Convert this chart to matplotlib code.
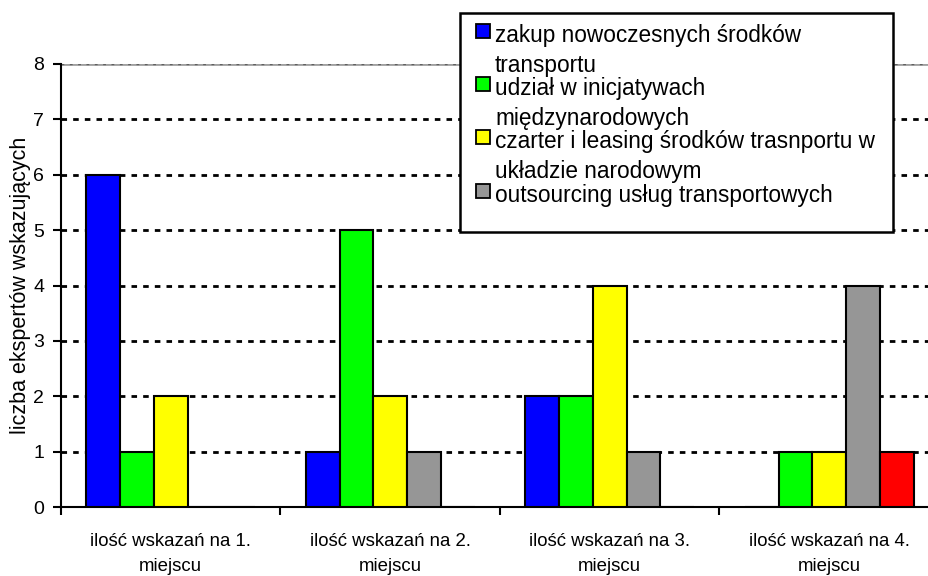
import matplotlib
matplotlib.use("Agg")
import matplotlib.pyplot as plt
import numpy as np
from matplotlib.patches import Rectangle

plt.rcParams['font.family'] = ['Liberation Sans', 'DejaVu Sans']

categories = ["ilość wskazań na 1.\nmiejscu", "ilość wskazań na 2.\nmiejscu",
              "ilość wskazań na 3.\nmiejscu", "ilość wskazań na 4.\nmiejscu"]
series_names = ["zakup nowoczesnych środków\ntransportu",
                "udział w inicjatywach\nmiędzynarodowych",
                "czarter i leasing środków trasnportu w\nukładzie narodowym",
                "outsourcing usług transportowych"]
zakup = [6, 1, 2, 0]
udzial = [1, 5, 2, 1]
czarter = [2, 2, 4, 1]
outsourcing = [0, 1, 1, 4]
inne = [0, 0, 0, 1]
colors = ["#0000ff", "#00ff00", "#ffff00", "#969696", "#ff0000"]
yticks = [0, 1, 2, 3, 4, 5, 6, 7, 8]

data = [zakup, udzial, czarter, outsourcing, inne]

W, H = 929, 576
fig = plt.figure(figsize=(W / 100, H / 100), dpi=100)
ax = fig.add_axes([61 / W, 69 / H, 878 / W, 443 / H])

n = len(data)
bw = 0.154
x = np.arange(len(categories))
for i, (vals, c) in enumerate(zip(data, colors)):
    offs = (i - (n - 1) / 2) * bw
    ax.bar(x + offs, vals, width=bw, color=c, edgecolor='black', linewidth=1.5, zorder=3)

ax.set_xlim(-0.5, len(categories) - 0.5)
ax.set_ylim(0, 8)
ax.set_yticks(yticks)
ax.set_yticklabels([str(t) for t in yticks], fontsize=14)
ax.set_xticks(np.arange(len(categories) + 1) - 0.5, minor=False)
ax.set_xticklabels([])
ax.set_xticks(x, minor=True)
ax.set_xticklabels(categories, minor=True, fontsize=13.4, linespacing=1.6)
ax.tick_params(axis='x', which='minor', length=0, pad=19)
ax.tick_params(axis='x', which='major', length=6, width=1.5, direction='out')
ax.tick_params(axis='y', length=6, width=1.5, direction='out', pad=6)

for y in yticks[1:8]:
    ax.axhline(y, color='black', linestyle=(0, (2, 2.2)), linewidth=2, zorder=1)
ax.axhline(8, color='#a0a0a0', linewidth=2, zorder=1)
ax.axhline(8, color='#606060', linestyle=(0, (2, 4)), linewidth=1, zorder=1)

for s in ['top', 'right']:
    ax.spines[s].set_visible(False)
ax.spines['left'].set_linewidth(1.5)
ax.spines['bottom'].set_linewidth(1.5)

ax.set_ylabel("liczba ekspertów wskazujących", fontsize=15.5, labelpad=1.5)

# Legend drawn manually (markers aligned with first text line, like the original)
def fx(px):
    return px / W

def fy(py):
    return 1 - py / H

fig.patches.append(Rectangle((fx(460), fy(232)), fx(893) - fx(460), fy(13) - fy(232),
                             transform=fig.transFigure, facecolor='white',
                             edgecolor='black', linewidth=1.8, zorder=10))
baselines = [42, 95, 148, 202]
second_line = 30
for name, c, b in zip(series_names, colors[:4], baselines):
    fig.patches.append(Rectangle((fx(476), fy(b - 4)), fx(490) - fx(476), fy(b - 18) - fy(b - 4),
                                 transform=fig.transFigure, facecolor=c,
                                 edgecolor='black', linewidth=1.3, zorder=11))
    for k, line in enumerate(name.split("\n")):
        fig.text(fx(495), fy(b + k * second_line), line, fontsize=16.3,
                 ha='left', va='baseline', zorder=12)

fig.savefig("out.png", dpi=100)
